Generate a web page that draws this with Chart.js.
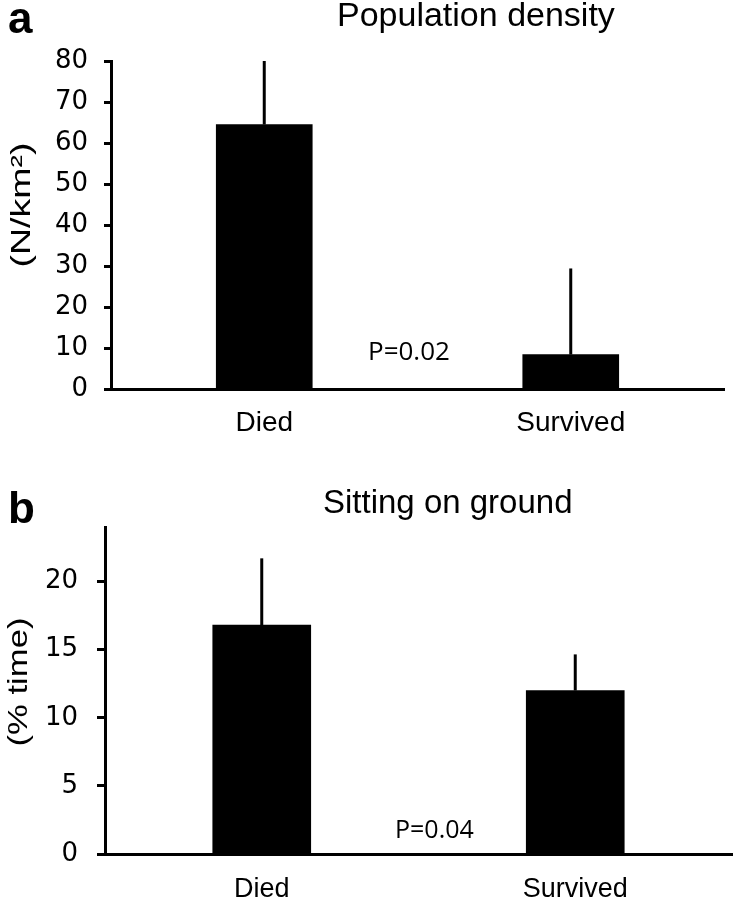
<!DOCTYPE html>
<html>
<head>
<meta charset="utf-8">
<script src="https://cdn.jsdelivr.net/npm/chart.js@4"></script>
<style>
  body { margin: 0; background: #fff; }
  .panel { position: absolute; left: 0; width: 734px; }
</style>
</head>
<body>
<div class="panel" style="top:0;height:450px"><canvas id="chartA"></canvas></div>
<div class="panel" style="top:450px;height:452px"><canvas id="chartB"></canvas></div>
<script>
var groups = ['Died', 'Survived']

// panel a - population density (N/km2)
var densityMean = [64.5, 8.4]
var densityErr = [15.5, 21.0]

// panel b - sitting on ground (% time)
var sittingMean = [16.8, 12.0]
var sittingErr = [4.9, 2.65]

var pValues = ['P=0.02', 'P=0.04']

Chart.defaults.animation = false

// only the upper half of the error bar is drawn in the figure
const errorBars = {
  id: 'errorBars',
  afterDatasetsDraw(chart, args, opts) {
    const ctx = chart.ctx
    const meta = chart.getDatasetMeta(0)
    const y = chart.scales.y
    const vals = chart.data.datasets[0].data
    ctx.save()
    ctx.strokeStyle = '#000'
    ctx.lineWidth = 3
    meta.data.forEach((bar, i) => {
      ctx.beginPath()
      ctx.moveTo(bar.x, y.getPixelForValue(vals[i]))
      ctx.lineTo(bar.x, y.getPixelForValue(vals[i] + opts.errors[i]))
      ctx.stroke()
    })
    ctx.restore()
  }
}

// panel letter, title, p value and the (stretched) y title
const panelText = {
  id: 'panelText',
  afterDraw(chart, args, o) {
    const ctx = chart.ctx
    ctx.save()
    ctx.fillStyle = '#000'
    ctx.textAlign = 'left'
    ctx.textBaseline = 'alphabetic'

    ctx.font = 'bold 44px "Liberation Sans"'
    ctx.fillText(o.letter, 8, o.letterY)

    ctx.font = o.titleSize + 'px "Liberation Sans"'
    ctx.fillText(o.title, o.titleX, o.titleY)

    ctx.font = o.pSize + 'px "Open Sans"'
    ctx.fillText(o.pText, o.pX, o.pY)

    ctx.font = '28px "Liberation Sans"'
    const w = ctx.measureText(o.yTitle).width
    ctx.translate(o.yTitleX, o.yTitleY)
    ctx.rotate(-Math.PI / 2)
    ctx.scale(o.yTitleLen / w, 1)
    ctx.textAlign = 'center'
    ctx.textBaseline = 'middle'
    ctx.fillText(o.yTitle, 0, 0)
    ctx.restore()
  }
}

function makePanel(canvasId, means, errs, opts) {
  return new Chart(document.getElementById(canvasId), {
    type: 'bar',
    data: {
      labels: groups,
      datasets: [{
        data: means,
        backgroundColor: '#000',
        borderWidth: 0,
        barThickness: opts.barThickness
      }]
    },
    options: {
      responsive: true,
      maintainAspectRatio: false,
      layout: { padding: opts.padding },
      plugins: {
        legend: { display: false },
        tooltip: { enabled: false },
        errorBars: { errors: errs },
        panelText: opts.text
      },
      scales: {
        x: {
          offset: true,
          grid: { display: false, drawTicks: false },
          border: { display: true, color: '#000', width: 3 },
          ticks: {
            color: '#000',
            padding: opts.xLabelPad,
            font: { family: 'Liberation Sans', size: opts.xLabelSize }
          },
          afterFit: s => { s.height = opts.xHeight }
        },
        y: {
          min: 0,
          max: opts.yMax,
          grid: {
            drawOnChartArea: false,
            drawTicks: true,
            tickLength: opts.tickLength,
            tickWidth: 3,
            tickColor: '#000'
          },
          border: { display: true, color: '#000', width: 3 },
          ticks: {
            stepSize: opts.step,
            color: '#000',
            padding: opts.yLabelPad,
            font: { family: 'DejaVu Sans', size: 26 }
          },
          afterBuildTicks: s => { s.ticks = s.ticks.filter(t => t.value % opts.step === 0) },
          afterFit: s => { s.width = opts.yWidth }
        }
      }
    },
    plugins: [errorBars, panelText]
  })
}

makePanel('chartA', densityMean, densityErr, {
  barThickness: 96,
  padding: { left: 0, top: 61, right: 10, bottom: 0 },
  xHeight: 61, xLabelPad: 17, xLabelSize: 28,
  yMax: 80, step: 10, tickLength: 7, yLabelPad: 16, yWidth: 111,
  text: {
    letter: 'a', letterY: 33,
    title: 'Population density', titleSize: 34, titleX: 337, titleY: 26,
    pText: pValues[0], pSize: 26, pX: 368, pY: 360,
    yTitle: '(N/km²)', yTitleX: 22, yTitleY: 205, yTitleLen: 125
  }
})

makePanel('chartB', sittingMean, sittingErr, {
  barThickness: 98,
  padding: { left: 0, top: 77, right: 2, bottom: 0 },
  xHeight: 48, xLabelPad: 19, xLabelSize: 27,
  yMax: 24, step: 5, tickLength: 8, yLabelPad: 19, yWidth: 105,
  text: {
    letter: 'b', letterY: 73,
    title: 'Sitting on ground', titleSize: 33, titleX: 323, titleY: 63,
    pText: pValues[1], pSize: 25, pX: 395, pY: 388,
    yTitle: '(% time)', yTitleX: 19, yTitleY: 232, yTitleLen: 129
  }
})
</script>
</body>
</html>
